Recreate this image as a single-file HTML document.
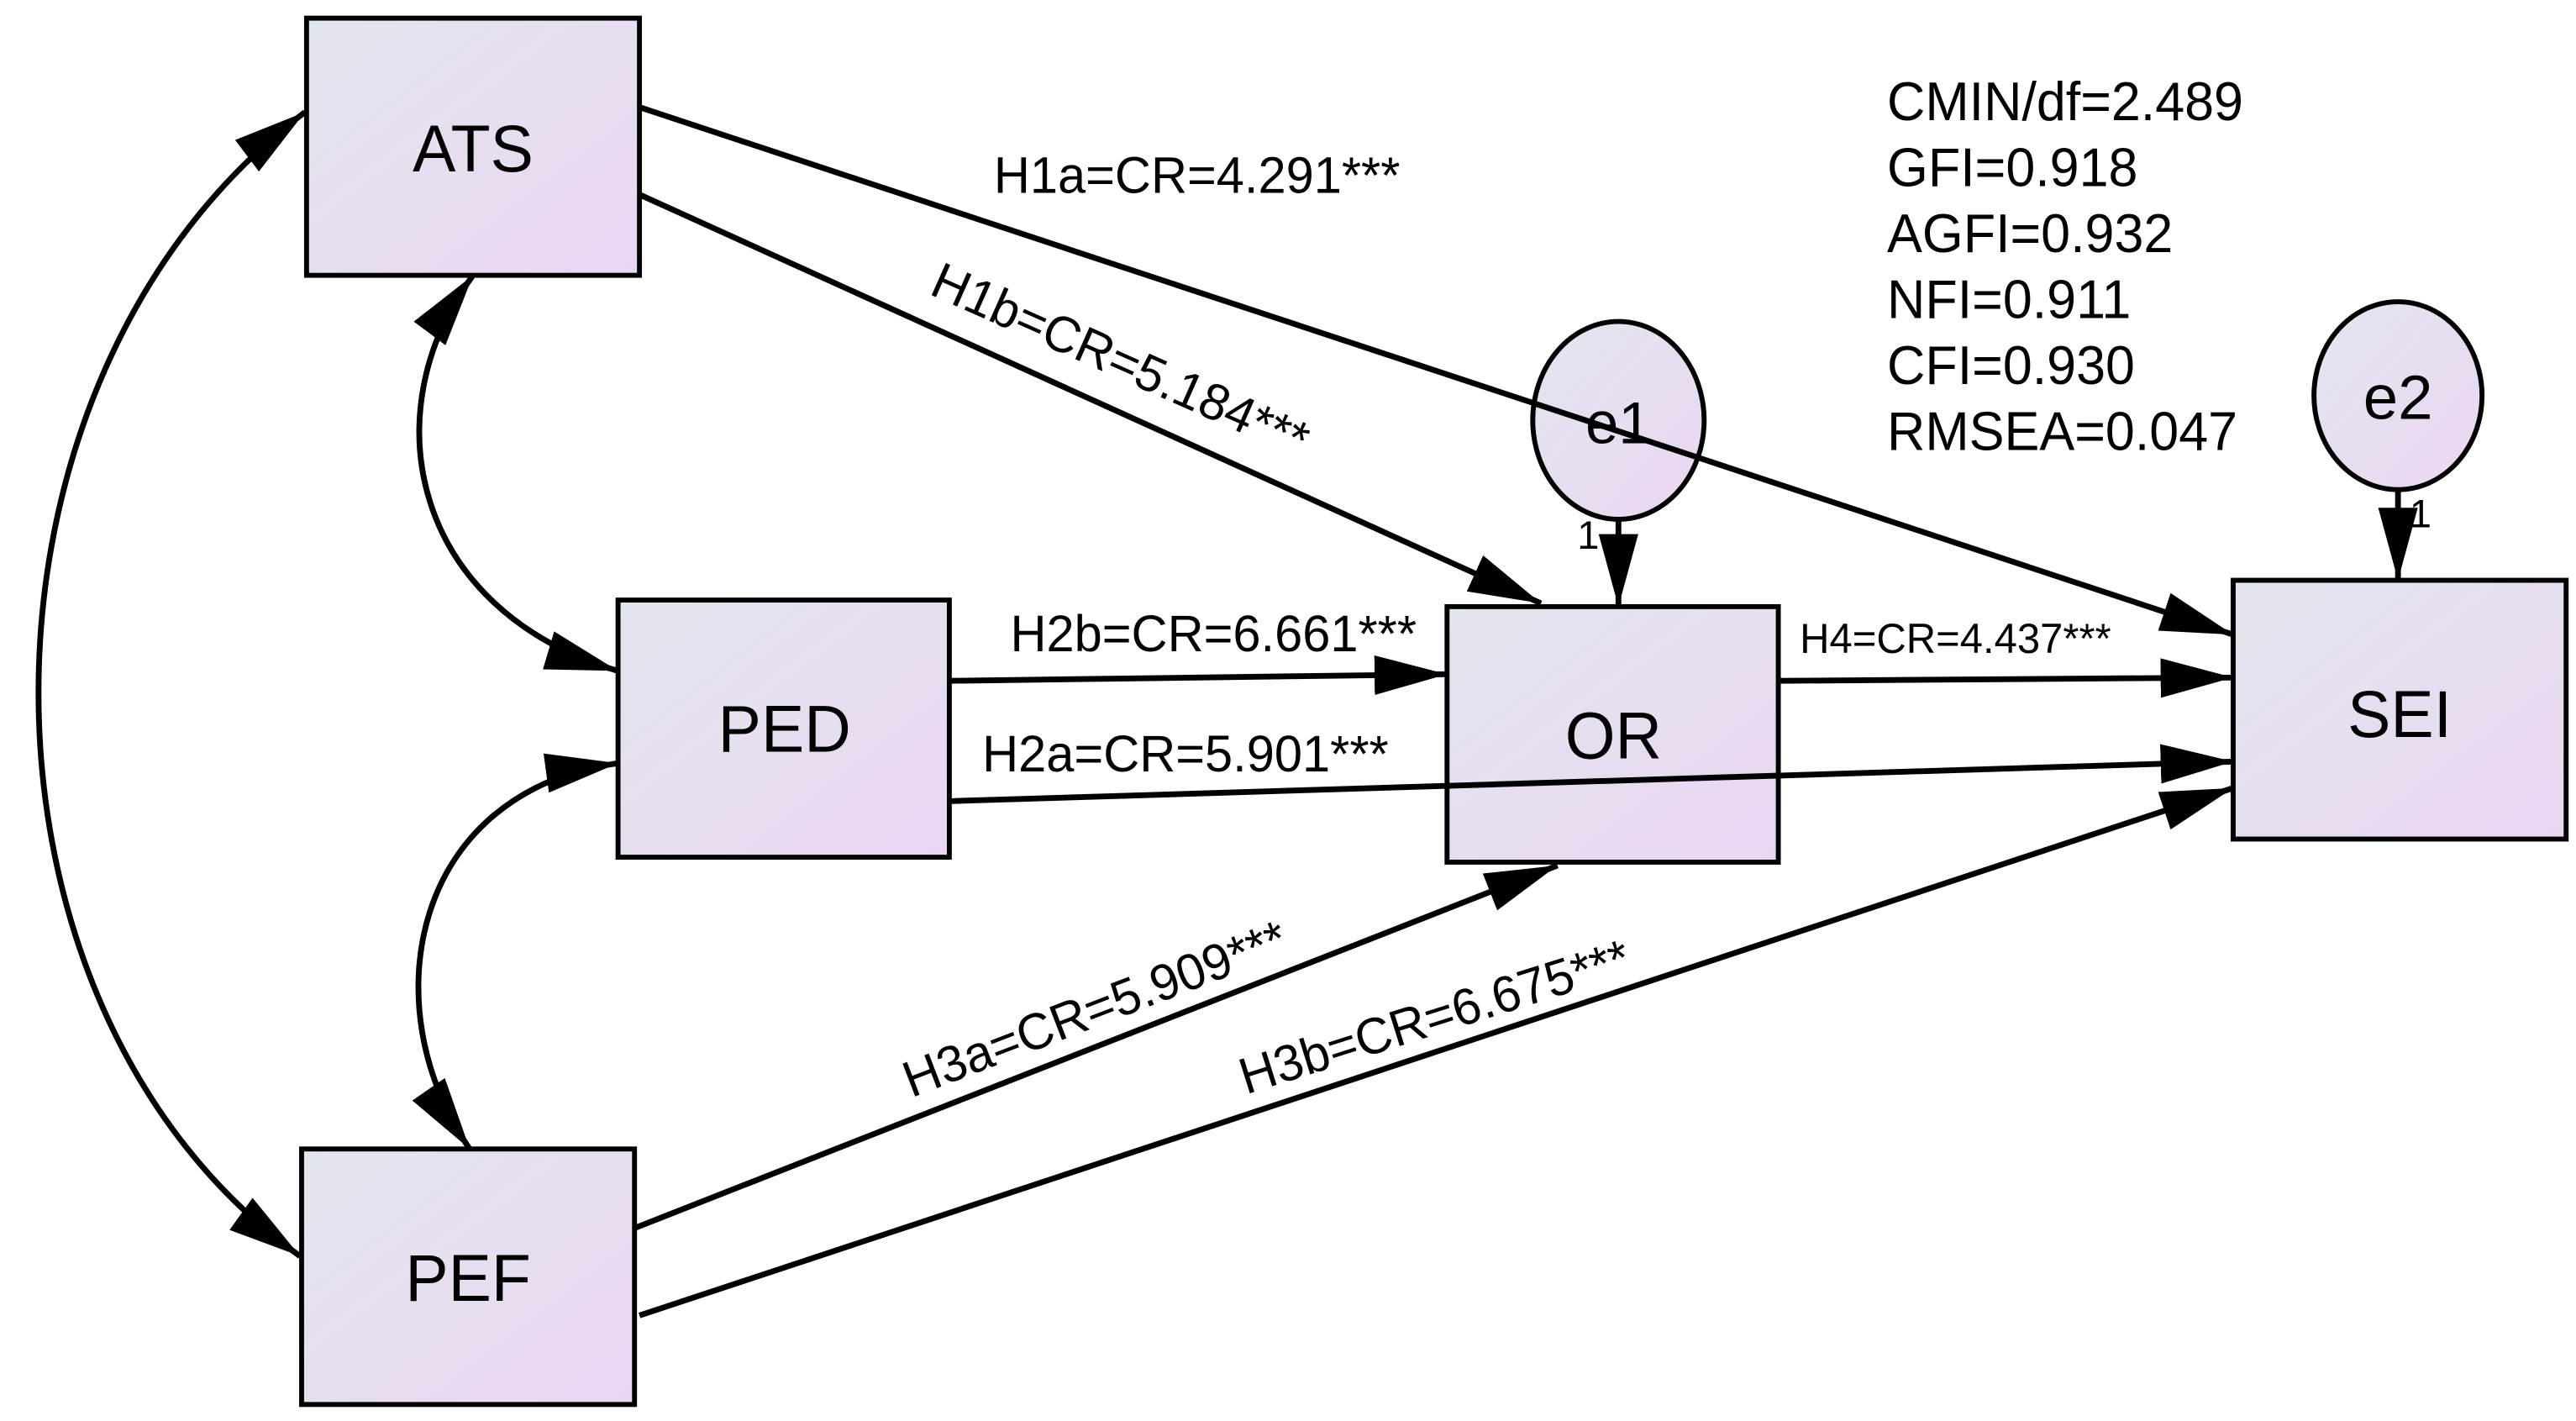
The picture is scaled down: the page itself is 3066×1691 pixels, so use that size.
<!DOCTYPE html>
<html><head><meta charset="utf-8"><style>html,body{margin:0;padding:0;background:#fff}svg{display:block}</style></head>
<body>
<svg width="3066" height="1691" viewBox="0 0 1563 862" xmlns="http://www.w3.org/2000/svg" font-family="Liberation Sans, Arial, sans-serif">
<defs>
<linearGradient id="g" x1="0" y1="0" x2="1" y2="1">
<stop offset="0" stop-color="#e2e6ee"/><stop offset="1" stop-color="#ebd6f2"/></linearGradient>
<marker id="a" markerUnits="userSpaceOnUse" markerWidth="46" markerHeight="30" refX="44" refY="15" orient="auto"><path d="M0,3 L44,15 L0,27 Z" fill="#000"/></marker>
<marker id="s" markerUnits="userSpaceOnUse" markerWidth="46" markerHeight="30" refX="2" refY="15" orient="auto"><path d="M46,3 L2,15 L46,27 Z" fill="#000"/></marker>
</defs>
<g stroke="#000" stroke-width="3" fill="url(#g)">
<rect x="186" y="11" width="202" height="156"/>
<rect x="375" y="364" width="201" height="156"/>
<rect x="183" y="697" width="202" height="155"/>
<rect x="878" y="368" width="201" height="155"/>
<rect x="1355" y="352" width="202" height="157"/>
<ellipse cx="982" cy="255" rx="52" ry="60"/>
<ellipse cx="1455" cy="240" rx="51" ry="57"/>
</g>
<g stroke="#000" stroke-width="3.5" fill="none">
<line x1="388" y1="65" x2="1355" y2="385" marker-end="url(#a)"/>
<line x1="388" y1="118" x2="935" y2="366" marker-end="url(#a)"/>
<line x1="576" y1="413" x2="878" y2="409" marker-end="url(#a)"/>
<line x1="576" y1="486" x2="1355" y2="462" marker-end="url(#a)"/>
<line x1="1079" y1="413" x2="1355" y2="411" marker-end="url(#a)"/>
<line x1="385" y1="745" x2="945" y2="525" marker-end="url(#a)"/>
<line x1="388" y1="798" x2="1355" y2="478" marker-end="url(#a)"/>
<line x1="982" y1="315" x2="982" y2="368" marker-end="url(#a)"/>
<line x1="1455" y1="297" x2="1455" y2="352" marker-end="url(#a)"/>
<path d="M185,68 C-30,230 -30,610 182,762" marker-start="url(#s)" marker-end="url(#a)"/>
<path d="M287,167 C225,250 250,370 375,407" marker-start="url(#s)" marker-end="url(#a)"/>
<path d="M375,463 C250,480 225,610 285,697" marker-start="url(#s)" marker-end="url(#a)"/>
</g>
<g fill="#000" font-size="40" text-anchor="middle">
<text transform="translate(287 104) scale(0.98 1)">ATS</text>
<text transform="translate(476 456) scale(0.98 1)">PED</text>
<text transform="translate(284 789) scale(0.98 1)">PEF</text>
<text transform="translate(979 460) scale(0.98 1)">OR</text>
<text transform="translate(1456 447) scale(0.98 1)">SEI</text>
<text transform="translate(982 269)" font-size="36">e1</text>
<text transform="translate(1455 254)" font-size="38">e2</text>
</g>
<g fill="#000" font-size="24"><text x="957" y="333">1</text><text x="1462" y="320">1</text></g>
<g fill="#000" font-size="31">
<text transform="translate(603 117) scale(0.98 1)">H1a=CR=4.291***</text>
<text transform="translate(563 178) rotate(24) scale(0.98 1)">H1b=CR=5.184***</text>
<text transform="translate(613 395) scale(0.98 1)">H2b=CR=6.661***</text>
<text transform="translate(596 468) scale(0.98 1)">H2a=CR=5.901***</text>
<text transform="translate(1092 396) scale(0.98 1)" font-size="25.5">H4=CR=4.437***</text>
<text transform="translate(553 666) rotate(-21) scale(0.98 1)">H3a=CR=5.909***</text>
<text transform="translate(756 664) rotate(-17.5) scale(0.98 1)">H3b=CR=6.675***</text>
</g>
<g fill="#000" font-size="33">
<text transform="translate(1145 73) scale(0.97 1)">CMIN/df=2.489</text>
<text transform="translate(1145 113) scale(0.97 1)">GFI=0.918</text>
<text transform="translate(1145 153) scale(0.97 1)">AGFI=0.932</text>
<text transform="translate(1145 193) scale(0.97 1)">NFI=0.911</text>
<text transform="translate(1145 233) scale(0.97 1)">CFI=0.930</text>
<text transform="translate(1145 273) scale(0.97 1)">RMSEA=0.047</text>
</g>
</svg>
</body></html>
